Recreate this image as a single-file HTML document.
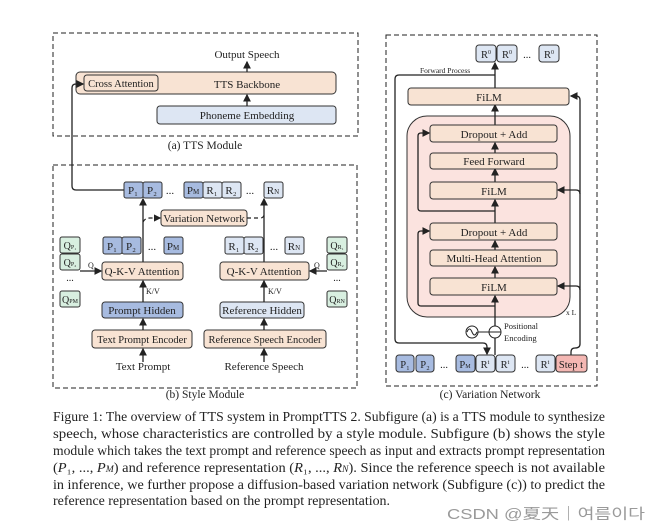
<!DOCTYPE html>
<html><head><meta charset="utf-8"><style>
html,body{margin:0;padding:0;background:#fff;}
svg{display:block;}
text{font-family:"Liberation Serif",serif;fill:#222;}
.b{stroke:#333;stroke-width:1;}
.pe{fill:#f8e3d3;}
.db{fill:#a7bbe0;}
.lb{fill:#dde6f3;}
.gr{fill:#d8efe0;}
.ln{stroke:#222;stroke-width:1.3;fill:none;}
.ds{stroke:#222;stroke-width:1.2;fill:none;stroke-dasharray:4 3;}
</style></head><body>
<svg width="655" height="530" viewBox="0 0 655 530" xmlns="http://www.w3.org/2000/svg">
<defs><marker id="a" markerWidth="6" markerHeight="6" refX="5" refY="3" orient="auto"><path d="M0,0 L6,3 L0,6 z" fill="#222"/></marker></defs>

<!-- Panel a -->
<rect x="53" y="33" width="305" height="103" fill="none" stroke="#222" stroke-dasharray="5 3"/>
<text x="247" y="58" font-size="11" text-anchor="middle">Output Speech</text>
<line x1="247" y1="72" x2="247" y2="62" class="ln" marker-end="url(#a)"/>
<rect x="76" y="72" width="260" height="22" rx="4" class="b pe"/>
<rect x="84" y="75" width="74" height="16" rx="3" class="b pe"/>
<text x="121" y="87" font-size="10.5" text-anchor="middle">Cross Attention</text>
<text x="247" y="88" font-size="11" text-anchor="middle">TTS Backbone</text>
<rect x="157" y="106" width="179" height="18" rx="3" class="b lb"/>
<text x="247" y="119" font-size="11" text-anchor="middle">Phoneme Embedding</text>
<line x1="247" y1="106" x2="247" y2="95" class="ln" marker-end="url(#a)"/>
<text x="205" y="149" font-size="11.5" text-anchor="middle">(a)  TTS Module</text>
<path d="M124,190 L76,190 Q72,190 72,186 L72,88 Q72,84 76,84 L83,84" class="ln" marker-end="url(#a)"/>

<!-- Panel b -->
<rect x="53" y="165" width="304" height="223" fill="none" stroke="#222" stroke-dasharray="5 3"/>
<g font-size="11">
<rect x="124" y="182" width="19" height="16" rx="2" class="b db"/><text x="133" y="194" text-anchor="middle">P₁</text>
<rect x="143" y="182" width="19" height="16" rx="2" class="b db"/><text x="152" y="194" text-anchor="middle">P₂</text>
<text x="170" y="194" text-anchor="middle">...</text>
<rect x="184" y="182" width="19" height="16" rx="2" class="b db"/><text x="193" y="194" text-anchor="middle">P<tspan font-size="7">M</tspan></text>
<rect x="203" y="182" width="19" height="16" rx="2" class="b lb"/><text x="212" y="194" text-anchor="middle">R₁</text>
<rect x="222" y="182" width="19" height="16" rx="2" class="b lb"/><text x="231" y="194" text-anchor="middle">R₂</text>
<text x="250" y="194" text-anchor="middle">...</text>
<rect x="264" y="182" width="19" height="16" rx="2" class="b lb"/><text x="273" y="194" text-anchor="middle">R<tspan font-size="7">N</tspan></text>

<rect x="161" y="210" width="86" height="16" rx="3" class="b pe"/><text x="204" y="222" text-anchor="middle">Variation Network</text>
<line x1="143" y1="262" x2="143" y2="199" class="ln" marker-end="url(#a)"/>
<line x1="264" y1="262" x2="264" y2="199" class="ln" marker-end="url(#a)"/>
<path d="M143,222 Q145,218 150,218 L160,218" class="ds" marker-end="url(#a)"/>
<path d="M247,218 L260,218 Q264,218 264,214" class="ds"/>

<rect x="103" y="237" width="19" height="17" rx="2" class="b db"/><text x="112" y="250" text-anchor="middle">P₁</text>
<rect x="122" y="237" width="19" height="17" rx="2" class="b db"/><text x="131" y="250" text-anchor="middle">P₂</text>
<text x="152" y="250" text-anchor="middle">...</text>
<rect x="164" y="237" width="19" height="17" rx="2" class="b db"/><text x="173" y="250" text-anchor="middle">P<tspan font-size="7">M</tspan></text>
<rect x="225" y="237" width="19" height="17" rx="2" class="b lb"/><text x="234" y="250" text-anchor="middle">R₁</text>
<rect x="244" y="237" width="19" height="17" rx="2" class="b lb"/><text x="253" y="250" text-anchor="middle">R₂</text>
<text x="274" y="250" text-anchor="middle">...</text>
<rect x="285" y="237" width="19" height="17" rx="2" class="b lb"/><text x="294" y="250" text-anchor="middle">R<tspan font-size="7">N</tspan></text>

<rect x="102" y="262" width="81" height="18" rx="3" class="b pe"/><text x="142" y="275" text-anchor="middle">Q-K-V Attention</text>
<rect x="220" y="262" width="89" height="18" rx="3" class="b pe"/><text x="264" y="275" text-anchor="middle">Q-K-V Attention</text>
<rect x="102" y="302" width="81" height="16" rx="3" class="b db"/><text x="142" y="314" text-anchor="middle">Prompt Hidden</text>
<rect x="220" y="302" width="84" height="16" rx="3" class="b lb"/><text x="262" y="314" text-anchor="middle">Reference Hidden</text>
<rect x="92" y="330" width="100" height="18" rx="3" class="b pe"/><text x="142" y="343" text-anchor="middle" font-size="10.5">Text Prompt Encoder</text>
<rect x="204" y="330" width="122" height="18" rx="3" class="b pe"/><text x="265" y="343" text-anchor="middle" font-size="10.5">Reference Speech Encoder</text>
<text x="143" y="370" text-anchor="middle">Text Prompt</text>
<text x="264" y="370" text-anchor="middle">Reference Speech</text>
</g>
<line x1="143" y1="302" x2="143" y2="281" class="ln" marker-end="url(#a)"/>
<line x1="264" y1="302" x2="264" y2="281" class="ln" marker-end="url(#a)"/>
<line x1="143" y1="330" x2="143" y2="319" class="ln" marker-end="url(#a)"/>
<line x1="264" y1="330" x2="264" y2="319" class="ln" marker-end="url(#a)"/>
<line x1="143" y1="362" x2="143" y2="349" class="ln" marker-end="url(#a)"/>
<line x1="264" y1="362" x2="264" y2="349" class="ln" marker-end="url(#a)"/>
<text x="146" y="294" font-size="8">K/V</text>
<text x="268" y="294" font-size="8">K/V</text>
<g font-size="10">
<rect x="60" y="237" width="20" height="16" rx="2" class="b gr"/><text x="70" y="249" text-anchor="middle">Q<tspan font-size="6">P₁</tspan></text>
<rect x="60" y="254" width="20" height="16" rx="2" class="b gr"/><text x="70" y="266" text-anchor="middle">Q<tspan font-size="6">P₂</tspan></text>
<text x="70" y="281" text-anchor="middle">...</text>
<rect x="60" y="291" width="20" height="16" rx="2" class="b gr"/><text x="70" y="303" text-anchor="middle">Q<tspan font-size="6">PM</tspan></text>
<rect x="327" y="237" width="20" height="16" rx="2" class="b gr"/><text x="337" y="249" text-anchor="middle">Q<tspan font-size="6">R₁</tspan></text>
<rect x="327" y="254" width="20" height="16" rx="2" class="b gr"/><text x="337" y="266" text-anchor="middle">Q<tspan font-size="6">R₂</tspan></text>
<text x="337" y="281" text-anchor="middle">...</text>
<rect x="327" y="291" width="20" height="16" rx="2" class="b gr"/><text x="337" y="303" text-anchor="middle">Q<tspan font-size="6">RN</tspan></text>
</g>
<line x1="80" y1="271" x2="101" y2="271" class="ln" marker-end="url(#a)"/>
<line x1="327" y1="271" x2="310" y2="271" class="ln" marker-end="url(#a)"/>
<text x="88" y="268" font-size="8">Q</text>
<text x="314" y="268" font-size="8">Q</text>
<text x="205" y="398" font-size="11.5" text-anchor="middle">(b)  Style Module</text>

<!-- Panel c -->
<rect x="386" y="35" width="211" height="351" fill="none" stroke="#222" stroke-dasharray="5 3"/>
<g font-size="10.5">
<rect x="476" y="45" width="20" height="17" rx="3" class="b lb"/><text x="486" y="58" text-anchor="middle">R<tspan font-size="6" dy="-4">0</tspan></text>
<rect x="497" y="45" width="20" height="17" rx="3" class="b lb"/><text x="507" y="58" text-anchor="middle">R<tspan font-size="6" dy="-4">0</tspan></text>
<text x="527" y="58" text-anchor="middle">...</text>
<rect x="539" y="45" width="20" height="17" rx="3" class="b lb"/><text x="549" y="58" text-anchor="middle">R<tspan font-size="6" dy="-4">0</tspan></text>
</g>
<text x="420" y="73" font-size="7.5">Forward Process</text>
<path d="M495,75 L399,75 Q395,75 395,79 L395,339 Q395,343 399,343 L483,343 Q487,343 487,347 L487,354" class="ln" marker-end="url(#a)"/>
<rect x="407" y="116" width="163" height="201" rx="20" fill="#fbe3df" stroke="#333"/>
<line x1="495" y1="355" x2="495" y2="296" class="ln" marker-end="url(#a)"/>
<line x1="495" y1="88" x2="495" y2="63" class="ln" marker-end="url(#a)"/>
<line x1="495" y1="116" x2="495" y2="105" class="ln" marker-end="url(#a)"/>
<line x1="495" y1="125" x2="495" y2="116" class="ln"/>
<line x1="495" y1="153" x2="495" y2="143" class="ln" marker-end="url(#a)"/>
<line x1="495" y1="182" x2="495" y2="169" class="ln" marker-end="url(#a)"/>
<line x1="495" y1="223" x2="495" y2="200" class="ln" marker-end="url(#a)"/>
<line x1="495" y1="250" x2="495" y2="241" class="ln" marker-end="url(#a)"/>
<line x1="495" y1="278" x2="495" y2="267" class="ln" marker-end="url(#a)"/>
<path d="M495,211 L421,211 Q418,211 418,208 L418,136 Q418,133 421,133 L429,133" class="ln" marker-end="url(#a)"/>
<path d="M495,306 L421,306 Q418,306 418,303 L418,234 Q418,231 421,231 L429,231" class="ln" marker-end="url(#a)"/>
<g font-size="11">
<rect x="408" y="88" width="161" height="17" rx="3" class="b pe"/><text x="489" y="101" text-anchor="middle">FiLM</text>
<rect x="430" y="125" width="127" height="17" rx="3" class="b pe"/><text x="494" y="138" text-anchor="middle">Dropout + Add</text>
<rect x="430" y="153" width="127" height="16" rx="3" class="b pe"/><text x="494" y="165" text-anchor="middle">Feed Forward</text>
<rect x="430" y="182" width="127" height="17" rx="3" class="b pe"/><text x="494" y="195" text-anchor="middle">FiLM</text>
<rect x="430" y="223" width="127" height="17" rx="3" class="b pe"/><text x="494" y="236" text-anchor="middle">Dropout + Add</text>
<rect x="430" y="250" width="127" height="16" rx="3" class="b pe"/><text x="494" y="262" text-anchor="middle">Multi-Head Attention</text>
<rect x="430" y="278" width="127" height="17" rx="3" class="b pe"/><text x="494" y="291" text-anchor="middle">FiLM</text>
</g>
<text x="566" y="315" font-size="7.5">x L</text>
<path d="M571,355 L571,352 Q571,348 575,348 Q580,348 580,344 L580,100 Q580,96 576,96 L571,96" class="ln" marker-end="url(#a)"/>
<path d="M580,194 Q580,190 576,190 L558,190" class="ln" marker-end="url(#a)"/>
<path d="M580,290 Q580,286 576,286 L558,286" class="ln" marker-end="url(#a)"/>
<circle cx="472" cy="332" r="6" fill="#fff" stroke="#222"/>
<path d="M467,332 Q469.5,326 472,332 Q474.5,338 477,332" fill="none" stroke="#222"/>
<circle cx="495" cy="332" r="6" fill="#fff" stroke="#222"/>
<line x1="489" y1="332" x2="501" y2="332" stroke="#222"/>
<line x1="478" y1="332" x2="489" y2="332" stroke="#222"/>
<text x="504" y="329" font-size="8.5">Positional</text>
<text x="504" y="341" font-size="8.5">Encoding</text>
<g font-size="10.5">
<rect x="396" y="355" width="18" height="17" rx="3" class="b db"/><text x="405" y="368" text-anchor="middle">P₁</text>
<rect x="416" y="355" width="18" height="17" rx="3" class="b db"/><text x="425" y="368" text-anchor="middle">P₂</text>
<text x="444" y="368" text-anchor="middle">...</text>
<rect x="456" y="355" width="19" height="17" rx="3" class="b db"/><text x="465" y="368" text-anchor="middle">P<tspan font-size="6">M</tspan></text>
<rect x="476" y="355" width="19" height="17" rx="3" class="b lb"/><text x="485" y="368" text-anchor="middle">R<tspan font-size="6" dy="-4">t</tspan></text>
<rect x="496" y="355" width="19" height="17" rx="3" class="b lb"/><text x="505" y="368" text-anchor="middle">R<tspan font-size="6" dy="-4">t</tspan></text>
<text x="525" y="368" text-anchor="middle">...</text>
<rect x="536" y="355" width="19" height="17" rx="3" class="b lb"/><text x="545" y="368" text-anchor="middle">R<tspan font-size="6" dy="-4">t</tspan></text>
<rect x="556" y="355" width="31" height="17" rx="3" class="b" fill="#f4b7b3"/><text x="571" y="368" text-anchor="middle">Step t</text>
</g>
<text x="490" y="398" font-size="11.5" text-anchor="middle">(c)  Variation Network</text>

<!-- caption -->
<g font-size="13.5">
<text x="53" y="421" textLength="552" lengthAdjust="spacingAndGlyphs">Figure 1: The overview of TTS system in PromptTTS 2. Subfigure (a) is a TTS module to synthesize</text>
<text x="53" y="438" textLength="552" lengthAdjust="spacingAndGlyphs">speech, whose characteristics are controlled by a style module.  Subfigure (b) shows the style</text>
<text x="53" y="455" textLength="552" lengthAdjust="spacingAndGlyphs">module which takes the text prompt and reference speech as input and extracts prompt representation</text>
<text x="53" y="472" textLength="552" lengthAdjust="spacingAndGlyphs">(<tspan font-style="italic">P</tspan>₁, ..., <tspan font-style="italic">P<tspan font-size="9">M</tspan></tspan>) and reference representation (<tspan font-style="italic">R</tspan>₁, ..., <tspan font-style="italic">R<tspan font-size="9">N</tspan></tspan>). Since the reference speech is not available</text>
<text x="53" y="489" textLength="552" lengthAdjust="spacingAndGlyphs">in inference, we further propose a diffusion-based variation network (Subfigure (c)) to predict the</text>
<text x="53" y="505" textLength="337" lengthAdjust="spacingAndGlyphs">reference representation based on the prompt representation.</text>
</g>
<text x="447" y="519" font-size="14.5" textLength="198" lengthAdjust="spacingAndGlyphs" style="font-family:'Liberation Sans','Noto Sans CJK SC',sans-serif;fill:#9a9a9a">CSDN @夏天｜여름이다</text>
</svg>
</body></html>
